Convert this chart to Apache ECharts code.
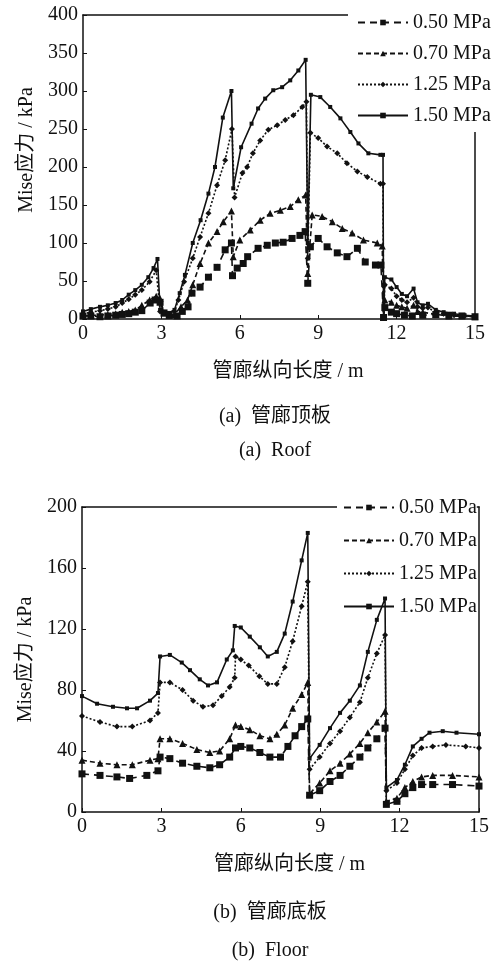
<!DOCTYPE html>
<html>
<head>
<meta charset="utf-8">
<script src="https://cdn.jsdelivr.net/npm/echarts@6/dist/echarts.min.js"></script>
<style>
  html, body { margin: 0; padding: 0; background: #fff; }
  #chart { width: 497px; height: 961px; }
</style>
</head>
<body>
<div id="chart"></div>
<script>
// 图例名称
const seriesNames = ['0.50 MPa', '0.70 MPa', '1.25 MPa', '1.50 MPa'];
const xTicks = [0, 3, 6, 9, 12, 15];

// (a) 管廊顶板 —— [纵向位置 m, Mise应力 kPa]
const roof050 = [[0,4],[0.3,4],[0.65,3],[0.95,4],[1.25,5],[1.5,6],[1.75,7],[2.0,9],[2.25,11],[2.57,21],[2.76,25],[2.95,22],[3.1,8],[3.3,5],[3.6,4],[3.8,10],[4.02,16],[4.17,34],[4.48,42],[4.8,55],[5.13,68],[5.44,91],[5.68,100],[5.72,57],[5.9,67],[6.13,73],[6.3,82],[6.7,93],[7.05,97],[7.36,100],[7.66,101],[8.0,106],[8.3,110],[8.5,115],[8.6,47],[8.7,95],[9.0,106],[9.34,95],[9.73,87],[10.1,82],[10.5,93],[10.8,75],[11.19,71],[11.4,71],[11.5,2],[11.55,15],[11.8,9],[12.0,7],[12.3,5],[12.6,4],[13.0,5],[13.5,6],[14.0,5],[14.5,4],[15,3]];
const roof070 = [[0,4],[0.3,5],[0.65,5],[0.95,6],[1.25,7],[1.5,9],[1.75,10],[2.0,12],[2.25,18],[2.55,25],[2.8,30],[2.95,27],[3.1,8],[3.3,5],[3.5,6],[3.75,16],[4.0,25],[4.2,45],[4.48,73],[4.8,100],[5.13,115],[5.37,128],[5.68,142],[5.75,82],[6.0,104],[6.4,117],[6.78,130],[7.16,139],[7.55,143],[7.93,148],[8.24,157],[8.52,163],[8.6,60],[8.77,137],[9.15,135],[9.54,128],[9.92,119],[10.3,113],[10.73,104],[11.26,100],[11.45,96],[11.5,2],[11.55,25],[11.8,22],[12.0,18],[12.2,16],[12.4,14],[12.65,18],[12.8,10],[13.0,9],[13.5,6],[14.0,4],[15,3]];
const roof125 = [[0,7],[0.3,9],[0.65,11],[0.95,13],[1.25,16],[1.5,21],[1.75,26],[2.0,32],[2.25,38],[2.55,49],[2.8,64],[2.95,10],[3.25,7],[3.5,10],[3.65,25],[3.87,49],[4.2,80],[4.48,108],[4.8,139],[5.13,176],[5.44,209],[5.7,250],[5.8,160],[6.1,192],[6.28,200],[6.5,218],[6.78,235],[7.09,249],[7.43,255],[7.74,262],[8.05,268],[8.39,279],[8.55,286],[8.6,80],[8.7,245],[9.0,238],[9.34,227],[9.73,218],[10.1,205],[10.5,194],[10.88,187],[11.38,178],[11.48,178],[11.5,2],[11.55,45],[11.8,40],[12.0,30],[12.2,25],[12.4,22],[12.65,28],[12.8,16],[13.0,14],[13.2,15],[13.5,9],[13.8,7],[14.2,5],[14.6,4],[15,3]];
const roof150 = [[0,10],[0.3,13],[0.65,16],[0.95,18],[1.25,21],[1.5,25],[1.75,32],[2.0,38],[2.25,45],[2.5,55],[2.7,67],[2.85,79],[2.95,12],[3.25,8],[3.5,12],[3.7,34],[3.9,58],[4.2,100],[4.5,130],[4.8,165],[5.05,200],[5.35,265],[5.68,300],[5.75,172],[6.05,226],[6.45,257],[6.7,277],[6.97,290],[7.28,301],[7.62,305],[7.93,314],[8.24,327],[8.52,341],[8.6,100],[8.72,295],[9.08,292],[9.46,279],[9.85,264],[10.23,246],[10.54,231],[10.92,218],[11.38,216],[11.48,216],[11.5,2],[11.55,55],[11.8,52],[12.0,42],[12.2,33],[12.4,30],[12.65,40],[12.8,22],[13.0,18],[13.2,20],[13.5,12],[13.8,9],[14.2,7],[14.6,5],[15,4]];

// (b) 管廊底板
const floor050 = [[0,25],[0.68,24],[1.32,23],[1.8,22],[2.45,24],[2.87,27],[2.95,36],[3.32,35],[3.8,32],[4.34,30],[4.83,29],[5.2,31],[5.58,36],[5.8,42],[6.0,43],[6.34,42],[6.72,39],[7.1,36],[7.5,36],[7.78,43],[8.05,50],[8.3,56],[8.53,61],[8.6,11],[8.98,14],[9.37,20],[9.75,24],[10.12,30],[10.5,36],[10.8,42],[11.14,48],[11.45,55],[11.5,5],[11.9,7],[12.2,12],[12.5,16],[12.83,18],[13.25,18],[14.0,18],[15,17]];
const floor070 = [[0,34],[0.68,32],[1.32,31],[1.9,31],[2.57,34],[2.87,35],[2.95,48],[3.32,48],[3.8,45],[4.34,41],[4.83,39],[5.2,40],[5.58,48],[5.8,57],[6.0,56],[6.34,54],[6.72,50],[7.1,48],[7.36,51],[7.66,57],[7.96,68],[8.3,77],[8.53,85],[8.6,12],[8.98,19],[9.37,27],[9.75,32],[10.12,38],[10.5,45],[10.8,52],[11.14,59],[11.45,66],[11.5,7],[11.9,9],[12.2,16],[12.5,20],[12.83,23],[13.25,24],[14.0,24],[15,23]];
const floor125 = [[0,63],[0.68,59],[1.32,56],[1.9,56],[2.57,60],[2.87,65],[2.95,85],[3.32,85],[3.8,80],[4.2,73],[4.57,69],[4.95,70],[5.28,76],[5.58,82],[5.77,88],[5.8,102],[6.0,100],[6.3,96],[6.7,89],[7.02,84],[7.36,84],[7.66,95],[7.96,112],[8.3,135],[8.53,151],[8.6,28],[8.98,36],[9.37,45],[9.75,53],[10.12,62],[10.5,72],[10.8,88],[11.14,104],[11.45,116],[11.5,14],[11.9,19],[12.2,28],[12.5,37],[12.83,42],[13.25,43],[13.75,44],[14.5,43],[15,42]];
const floor150 = [[0,76],[0.57,71],[1.17,69],[1.7,68],[2.08,68],[2.57,73],[2.87,78],[2.95,102],[3.32,103],[3.77,98],[4.08,93],[4.45,87],[4.76,83],[5.1,85],[5.47,100],[5.7,106],[5.77,122],[6.0,121],[6.34,115],[6.72,108],[7.02,102],[7.36,105],[7.66,117],[7.96,138],[8.3,165],[8.53,183],[8.6,35],[8.98,44],[9.37,55],[9.75,65],[10.12,73],[10.5,83],[10.8,105],[11.14,126],[11.45,140],[11.5,16],[11.9,21],[12.2,31],[12.5,43],[12.83,48],[13.13,52],[13.63,53],[14.15,52],[15,51]];

const chart = echarts.init(document.getElementById('chart'));

const FONT = '"Liberation Serif", "Times New Roman", "Noto Sans CJK SC", serif';
const INK = '#111';

// 四条曲线的线型和标记
const styles = [
  { symbol: 'rect', symbolSize: 7, type: [7, 5] },
  { symbol: 'triangle', symbolSize: 7, type: [5, 3] },
  { symbol: 'diamond', symbolSize: 6, type: [2, 2] },
  { symbol: 'rect', symbolSize: 4, type: 'solid' }
];

function makeSeries(dataList, axisIndex) {
  return dataList.map((d, i) => ({
    name: seriesNames[i],
    type: 'line',
    xAxisIndex: axisIndex * 2,
    yAxisIndex: axisIndex * 2,
    data: d,
    z: 3,
    symbol: styles[i].symbol,
    symbolSize: styles[i].symbolSize,
    showAllSymbol: true,
    itemStyle: { color: INK },
    lineStyle: { color: INK, width: 1.6, type: styles[i].type },
    animation: false
  }));
}

function xAxisPair(gridIndex, nameGap) {
  return [{
    type: 'value', gridIndex, min: 0, max: 15, interval: 3,
    name: '管廊纵向长度 / m', nameLocation: 'middle', nameGap,
    nameTextStyle: { fontFamily: FONT, fontSize: 20, color: INK, padding: [0, 0, 0, 18] },
    axisLine: { show: true, lineStyle: { color: INK, width: 1.5 } },
    axisTick: { show: true, inside: true, length: 4, lineStyle: { color: INK } },
    axisLabel: { fontFamily: FONT, fontSize: 20, color: INK, margin: 5 },
    splitLine: { show: false }
  }, {
    type: 'value', gridIndex, min: 0, max: 15, position: 'top',
    axisLine: { show: true, onZero: false, lineStyle: { color: INK, width: 1.5 } },
    axisTick: { show: false }, axisLabel: { show: false }, splitLine: { show: false }
  }];
}

function yAxisPair(gridIndex, max, interval, shiftUp) {
  return [{
    type: 'value', gridIndex, min: 0, max, interval,
    name: 'Mise应力 / kPa', nameLocation: 'middle', nameGap: 46, nameRotate: 90,
    nameTextStyle: { fontFamily: FONT, fontSize: 20, color: INK, padding: [0, 0, 0, shiftUp * 2] },
    axisLine: { show: true, lineStyle: { color: INK, width: 1.5 } },
    axisTick: { show: true, inside: true, length: 4, lineStyle: { color: INK } },
    axisLabel: { fontFamily: FONT, fontSize: 20, color: INK, margin: 5 },
    splitLine: { show: false }
  }, {
    type: 'value', gridIndex, min: 0, max, position: 'right',
    axisLine: { show: true, onZero: false, lineStyle: { color: INK, width: 1.5 } },
    axisTick: { show: false }, axisLabel: { show: false }, splitLine: { show: false }
  }];
}

function legendAt(left, top, padding, gap) {
  return {
    data: seriesNames,
    orient: 'vertical',
    left, top, padding,
    itemGap: gap,
    itemWidth: 50,
    itemHeight: 7,
    backgroundColor: '#fff',
    z: 1,
    selectedMode: false,
    textStyle: { fontFamily: FONT, fontSize: 20, color: INK, lineHeight: 21 }
  };
}

function caption(text, x, y) {
  return {
    text, left: x, top: y, textAlign: 'center', padding: 0,
    textStyle: { fontFamily: FONT, fontSize: 20, fontWeight: 'normal', color: INK }
  };
}

const option = {
  backgroundColor: '#fff',
  animation: false,
  title: [
    caption('(a)  管廊顶板', 275, 407),
    caption('(a)  Roof', 275, 441),
    caption('(b)  管廊底板', 270, 903),
    caption('(b)  Floor', 270, 941)
  ],
  legend: [
    legendAt(348, 0, [12, 0, 6, 9], 10),
    legendAt(337, 490, [7, 0, 6, 6], 12)
  ],
  grid: [
    { left: 83, top: 15, width: 392, height: 304 },
    { left: 82, top: 507, width: 397, height: 305 }
  ],
  xAxis: [...xAxisPair(0, 43), ...xAxisPair(1, 43)],
  yAxis: [...yAxisPair(0, 400, 50, 17), ...yAxisPair(1, 200, 40, 0)],
  series: [
    ...makeSeries([roof050, roof070, roof125, roof150], 0),
    ...makeSeries([floor050, floor070, floor125, floor150], 1)
  ]
};

chart.setOption(option);
window.addEventListener('resize', () => chart.resize());
</script>
</body>
</html>
